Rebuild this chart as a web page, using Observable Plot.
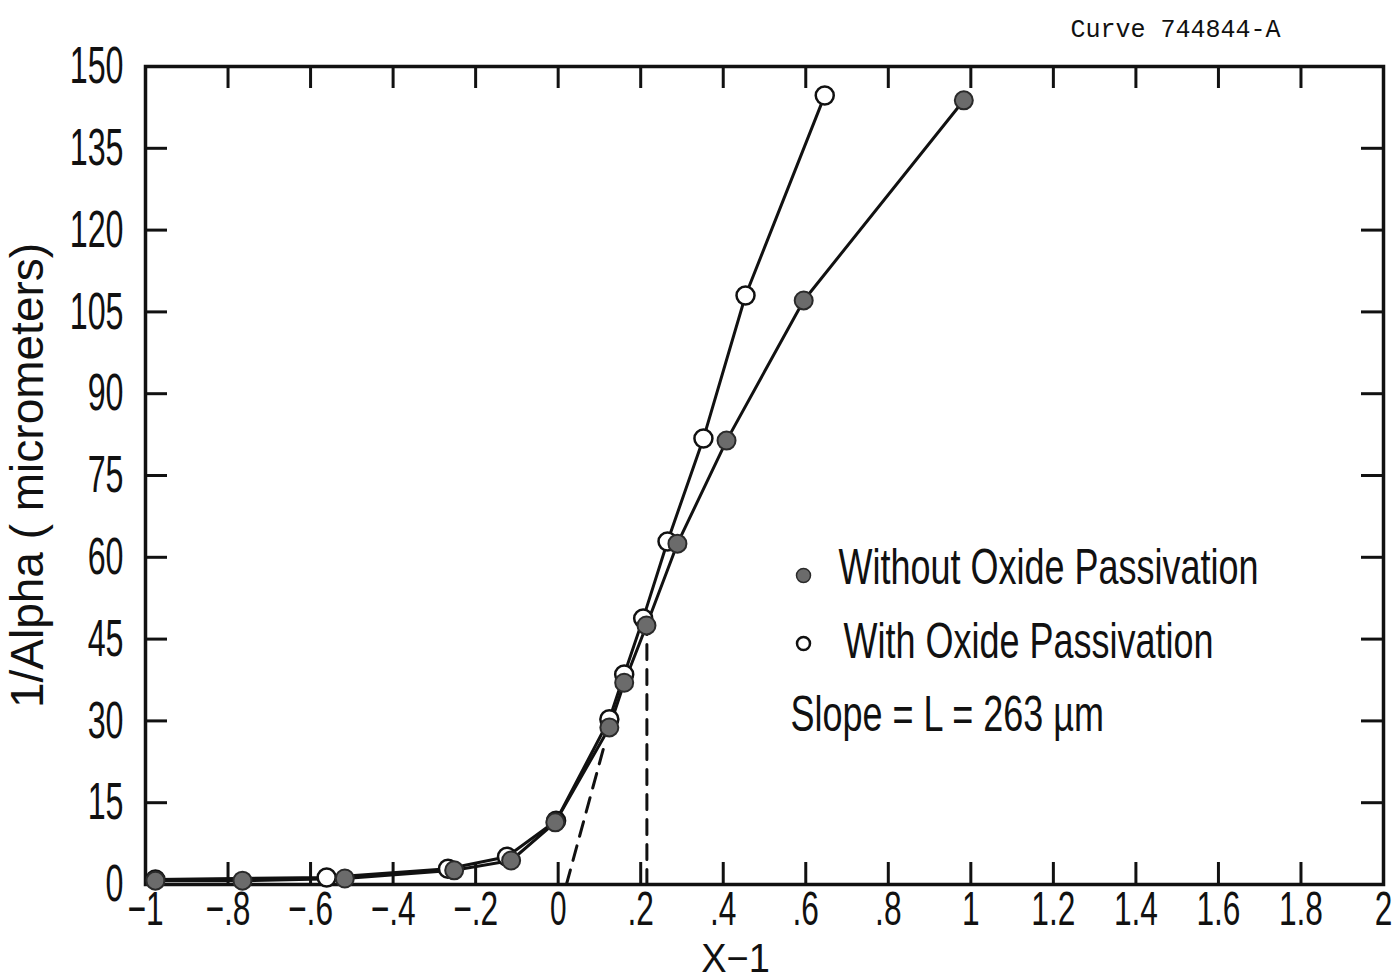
<!DOCTYPE html>
<html><head><meta charset="utf-8">
<script src="https://cdn.jsdelivr.net/npm/d3@7"></script>
<script src="https://cdn.jsdelivr.net/npm/@observablehq/plot@0.6"></script>
<style>body{margin:0;background:#fff} #chart svg{display:block}</style>
</head><body><div id="chart"></div>
<script>
// ---- data ----
const filledX = [-0.976, -0.765, -0.517, -0.252, -0.114, -0.007, 0.124, 0.160, 0.214, 0.289, 0.408, 0.595, 0.983];
const filledY = [0.7, 0.7, 1.1, 2.6, 4.4, 11.4, 28.8, 37.0, 47.5, 62.5, 81.4, 107.1, 143.8];
const openX = [-0.976, -0.561, -0.267, -0.124, -0.005, 0.124, 0.160, 0.206, 0.265, 0.352, 0.454, 0.646];
const openY = [0.9, 1.3, 2.9, 5.1, 11.7, 30.3, 38.5, 48.8, 62.9, 81.8, 108.0, 144.7];
const dashSlopeX = [0.02, 0.11];
const dashSlopeY = [0, 25];
const dashVertX = [0.215, 0.215];
const dashVertY = [0, 47.5];
const xTicks = [-1, -0.8, -0.6, -0.4, -0.2, 0, 0.2, 0.4, 0.6, 0.8, 1, 1.2, 1.4, 1.6, 1.8, 2];
const xTickLabels = ["−1", "−.8", "−.6", "−.4", "−.2", "0", ".2", ".4", ".6", ".8", "1", "1.2", "1.4", "1.6", "1.8", "2"];
const yTicks = [0, 15, 30, 45, 60, 75, 90, 105, 120, 135, 150];
const yTickLabels = ["0", "15", "30", "45", "60", "75", "90", "105", "120", "135", "150"];
const legendLabels = ["Without Oxide Passivation", "With Oxide Passivation"];
const slopeNote = "Slope = L = 263 µm";
const xTitle = "X−1";
const yTitle = "1/Alpha ( micrometers)";
const curveId = "Curve 744844-A";

// ---- tables ----
const filled = filledX.map((x, i) => ({x, y: filledY[i]}));
const open = openX.map((x, i) => ({x, y: openY[i]}));
const dashSlope = dashSlopeX.map((x, i) => ({x, y: dashSlopeY[i]}));
const dashVert = dashVertX.map((x, i) => ({x, y: dashVertY[i]}));
const xInner = xTicks.slice(1, -1);
const yInner = yTicks.slice(1, -1);

const W = 1399, H = 980;
const mL = 145, mR = 16, mT = 66, mB = 96;
const iw = W - mL - mR, ih = H - mT - mB;
const T = 22;
const ink = "#111";

const plot = Plot.plot({
  width: W, height: H,
  marginLeft: mL, marginRight: mR, marginTop: mT, marginBottom: mB,
  x: {domain: [-1, 2]},
  y: {domain: [0, 150]},
  style: {fontFamily: "'Liberation Sans', Arial, sans-serif", color: ink, background: "#fff", overflow: "visible"},
  marks: [
    Plot.axisX(xTicks, {anchor: "bottom", tickSize: 0, tickPadding: 6, fontSize: 48, fill: ink,
      tickFormat: d => xTickLabels[xTicks.indexOf(d)], label: null}),
    Plot.axisY(yTicks, {anchor: "left", tickSize: 0, tickPadding: 22, fontSize: 52, fill: ink,
      tickFormat: d => yTickLabels[yTicks.indexOf(d)], label: null}),
    Plot.ruleX(xInner, {x: d => d, insetTop: ih - T, stroke: ink, strokeWidth: 3}),
    Plot.ruleX(xInner, {x: d => d, insetBottom: ih - T, stroke: ink, strokeWidth: 3}),
    Plot.ruleY(yInner, {y: d => d, insetRight: iw - T, stroke: ink, strokeWidth: 3}),
    Plot.ruleY(yInner, {y: d => d, insetLeft: iw - T, stroke: ink, strokeWidth: 3}),
    Plot.frame({stroke: ink, strokeWidth: 3.5}),
    Plot.line(dashSlope, {x: "x", y: "y", stroke: ink, strokeWidth: 3, strokeDasharray: "15,10"}),
    Plot.line(dashVert, {x: "x", y: "y", stroke: ink, strokeWidth: 3, strokeDasharray: "15,10"}),
    Plot.line(open, {x: "x", y: "y", stroke: ink, strokeWidth: 3}),
    Plot.line(filled, {x: "x", y: "y", stroke: ink, strokeWidth: 3}),
    Plot.dot(open, {x: "x", y: "y", r: 9, fill: "#fff", stroke: ink, strokeWidth: 2.5}),
    Plot.dot(filled, {x: "x", y: "y", r: 9, fill: "#6b6b6b", stroke: "#2a2a2a", strokeWidth: 2}),
    // legend
    Plot.dot([legendLabels[0]], {frameAnchor: "top-left", dx: 658, dy: 509, r: 7, fill: "#6b6b6b", stroke: "#2a2a2a", strokeWidth: 1.5}),
    Plot.dot([legendLabels[1]], {frameAnchor: "top-left", dx: 658, dy: 577, r: 6.5, fill: "#fff", stroke: ink, strokeWidth: 2.5}),
    Plot.text([legendLabels[0]], {text: d => d, frameAnchor: "top-left", dx: 693, dy: 501, textAnchor: "start", lineAnchor: "middle", fontSize: 50, fill: ink}),
    Plot.text([legendLabels[1]], {text: d => d, frameAnchor: "top-left", dx: 698, dy: 575, textAnchor: "start", lineAnchor: "middle", fontSize: 50, fill: ink}),
    Plot.text([slopeNote], {text: d => d, frameAnchor: "top-left", dx: 645, dy: 648, textAnchor: "start", lineAnchor: "middle", fontSize: 50, fill: ink}),
    // titles
    Plot.text([xTitle], {text: d => d, frameAnchor: "bottom", dx: -29, dy: 74.5, lineAnchor: "middle", fontSize: 40, fill: ink}),
    Plot.text([yTitle], {text: d => d, frameAnchor: "left", dx: -117, rotate: -90, textAnchor: "middle", lineAnchor: "middle", fontSize: 46, fill: ink}),
    Plot.text([curveId], {text: d => d, frameAnchor: "top-right", dx: -103, dy: -38, textAnchor: "end", lineAnchor: "middle", fontSize: 25, fill: ink,
      fontFamily: "'Liberation Mono', 'DejaVu Sans Mono', monospace"})
  ]
});

// condensed lettering like the original
const squeezeBy = new Map([
  ...xTickLabels.map(s => [s, 0.66]),
  ...yTickLabels.map(s => [s, 0.62]),
  [legendLabels[0], 0.72], [legendLabels[1], 0.72], [slopeNote, 0.72],
  [xTitle, 0.95], [yTitle, 1.0]
]);
d3.select(plot).selectAll("text").each(function() {
  const s = squeezeBy.get(this.textContent);
  if (s === undefined) return;
  const t = this.getAttribute("transform") || "";
  this.setAttribute("transform", t + ` scale(${s},1)`);
});

document.getElementById("chart").appendChild(plot);
</script>
</body></html>
